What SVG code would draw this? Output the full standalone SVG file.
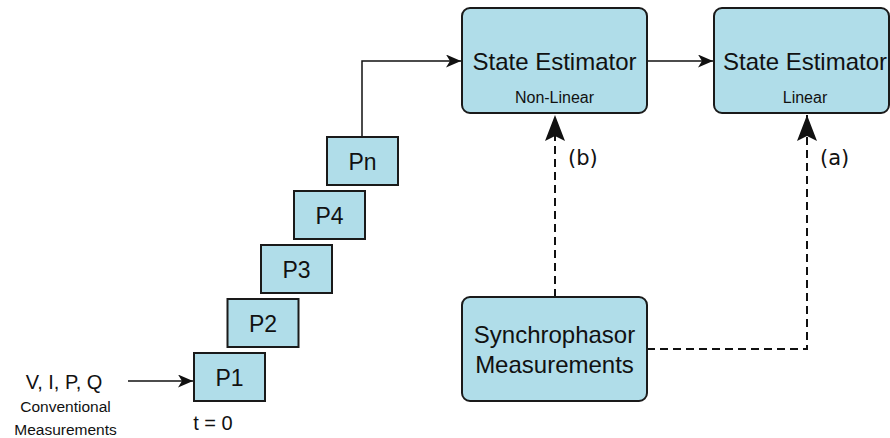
<svg xmlns="http://www.w3.org/2000/svg" width="890" height="438" viewBox="0 0 890 438">
  <style>
    .box { fill: #b0dde9; stroke: #1a1a1a; stroke-width: 2; }
    .txt { font-family: "Liberation Sans", Arial, sans-serif; fill: #111; text-anchor: middle; }
    .lbl { font-family: "DejaVu Sans", sans-serif; fill: #111; font-size: 21px; }
    .solid { fill: none; stroke: #111; stroke-width: 1.5; }
    .dash { fill: none; stroke: #111; stroke-width: 2; stroke-dasharray: 8 5; }
  </style>
  <defs>
    <marker id="arrowSmall" markerUnits="userSpaceOnUse" markerWidth="16" markerHeight="13" refX="15" refY="6.5" orient="auto">
      <path d="M0,0 L15,6.5 L0,13 L4,6.5 Z" fill="#111"/>
    </marker>
    <marker id="arrowBig" markerUnits="userSpaceOnUse" markerWidth="27" markerHeight="20" refX="26" refY="10" orient="auto">
      <path d="M0,0 L26,10 L0,20 L5,10 Z" fill="#111"/>
    </marker>
  </defs>

  <!-- connectors -->
  <g id="connectors">
    <path class="solid" d="M362,137 V61 H461" marker-end="url(#arrowSmall)"/>
    <path class="solid" d="M647,61 H713" marker-end="url(#arrowSmall)"/>
    <path class="solid" d="M128,381 H193" marker-end="url(#arrowSmall)"/>
    <path class="dash" d="M555,297 V115" marker-end="url(#arrowBig)"/>
    <path class="dash" d="M647,349 H807 V115" marker-end="url(#arrowBig)"/>
  </g>

  <!-- non-linear state estimator -->
  <g id="se-nonlinear">
    <rect class="box" x="462" y="8" width="185" height="105" rx="8"/>
    <text class="txt" x="554.5" y="70" font-size="24">State Estimator</text>
    <text class="txt" x="554.5" y="103" font-size="16">Non-Linear</text>
  </g>

  <!-- linear state estimator -->
  <g id="se-linear">
    <rect class="box" x="714" y="8" width="175" height="105" rx="8"/>
    <text class="txt" x="805" y="70" font-size="24">State Estimator</text>
    <text class="txt" x="805" y="103" font-size="16">Linear</text>
  </g>

  <!-- synchrophasor measurements -->
  <g id="synchrophasor">
    <rect class="box" x="462" y="297" width="185" height="104" rx="8"/>
    <text class="txt" x="554.5" y="343" font-size="24">Synchrophasor</text>
    <text class="txt" x="554.5" y="373" font-size="24">Measurements</text>
  </g>

  <!-- measurement snapshots -->
  <g id="p1">
    <rect class="box" x="194" y="353" width="71" height="48"/>
    <text class="txt" x="229.5" y="385.5" font-size="23">P1</text>
  </g>
  <g id="p2">
    <rect class="box" x="227.5" y="299" width="71" height="48"/>
    <text class="txt" x="263" y="331.5" font-size="23">P2</text>
  </g>
  <g id="p3">
    <rect class="box" x="261" y="245" width="71" height="48"/>
    <text class="txt" x="296.5" y="277.5" font-size="23">P3</text>
  </g>
  <g id="p4">
    <rect class="box" x="294" y="191" width="71" height="48"/>
    <text class="txt" x="329.5" y="223.5" font-size="23">P4</text>
  </g>
  <g id="pn">
    <rect class="box" x="327" y="137" width="71" height="48"/>
    <text class="txt" x="362.5" y="169.5" font-size="23">Pn</text>
  </g>

  <!-- conventional measurements input -->
  <g id="conventional">
    <text class="txt" x="64" y="389" font-size="20">V, I, P, Q</text>
    <text class="txt" x="65.5" y="412" font-size="15.5">Conventional</text>
    <text class="txt" x="65.5" y="435" font-size="15.5">Measurements</text>
  </g>
  <text class="txt" x="213" y="430" font-size="20">t = 0</text>

  <!-- link labels -->
  <text class="lbl" x="568" y="165">(b)</text>
  <text class="lbl" x="820" y="165">(a)</text>
</svg>
